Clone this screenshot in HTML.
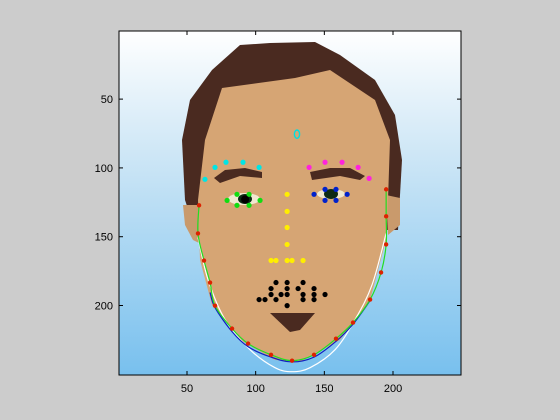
<!DOCTYPE html>
<html><head><meta charset="utf-8"><style>
html,body{margin:0;padding:0;background:#cccccc;}
svg{display:block;font-family:"Liberation Sans",sans-serif;}
</style></head><body>
<svg id="fig" width="560" height="420" viewBox="0 0 560 420">
<defs>
<linearGradient id="bg" x1="0" y1="0" x2="0" y2="1">
<stop offset="0" stop-color="#ffffff"/><stop offset="0.35" stop-color="#cfe7f6"/><stop offset="1" stop-color="#78c0ee"/>
</linearGradient>
<clipPath id="clip"><rect x="119" y="31" width="342" height="344"/></clipPath>
</defs>
<g clip-path="url(#clip)">
<rect x="119" y="31" width="342" height="344" fill="url(#bg)"/>
<polygon fill="#4a2a20" points="212,70 240,45 270,43 315,42 340,55 375,80 395,115 402,160 398,230 385,230 260,230 195,230 185,200 182,140 190,100"/>
<polygon fill="#c99a6c" points="183,205 198,205 203,245 193,240 185,225"/>
<polygon fill="#c99a6c" points="386,195 400,198 400,225 388,235"/>
<path fill="#d6a574" d="M222,88 L295,78 L330,70 L375,100 L390,140 L388,200 L386,240 L370,300 L340,340 L300,362 L275,360 L240,340 L212,305 L200,260 L198,200 L205,140 Z"/>
<polygon fill="#4a2a20" points="214,178 225,170 245,168 262,172 262,178 240,176 220,183"/>
<polygon fill="#4a2a20" points="310,172 330,168 350,168 365,176 360,180 340,176 312,180"/>
<ellipse cx="244" cy="199" rx="16" ry="6" fill="#f0e8d0"/>
<ellipse cx="331" cy="194" rx="14" ry="5" fill="#f0e8d0"/>
<ellipse cx="245" cy="199" rx="7" ry="5" fill="#0c2a14"/>
<ellipse cx="331" cy="194" rx="7" ry="5" fill="#0c2a14"/>
<polygon fill="#4a2a20" points="270,313 315,313 300,330 290,332"/>
</g>
<g id="marks" clip-path="url(#clip)"></g>
<rect x="119" y="31" width="342" height="344" fill="none" stroke="#000" stroke-width="1"/>
<g id="axes"></g>
</svg>
<script>
const xTicks=[50,100,150,200];
const yTicks=[50,100,150,200];
const browLX=[63.1,70.4,78.4,90.8,102.5];
const browLY=[108.3,99.6,95.9,95.9,99.6];
const browRX=[138.9,150.5,162.9,174.6,182.6];
const browRY=[99.6,95.9,95.9,99.6,107.6];
const eyeLX=[79.2,86.4,95.2,103.2,95.2,86.4];
const eyeLY=[123.6,119.2,119.2,123.6,127.2,127.2];
const eyeRX=[142.5,150.5,158.5,166.6,158.5,150.5];
const eyeRY=[119.2,115.6,115.6,119.2,123.6,123.6];
const noseX=[122.9,122.9,122.9,122.9,111.2,114.8,122.9,126.5,134.5];
const noseY=[119.2,131.6,143.3,155.6,167.3,167.3,167.3,167.3,167.3];
const mouthX=[114.8,122.9,134.5,111.2,122.9,130.9,142.5,111.2,118.5,122.9,134.5,142.5,150.5,102.5,106.8,114.8,134.5,142.5,122.9];
const mouthY=[183.3,183.3,183.3,187.7,187.7,187.7,187.7,192.0,192.0,192.0,192.0,192.0,192.0,195.7,195.7,195.7,195.7,195.7,200.1];
const jawX=[58.8,58.0,62.4,66.8,70.4,82.8,94.5,111.2,126.5,142.5,158.5,170.9,183.3,191.3,195.0,195.0,195.0];
const jawY=[127.2,147.6,167.3,183.3,200.1,216.8,227.7,235.8,240.1,235.8,224.1,212.4,195.7,176.0,155.6,135.2,115.6];
const blueX=[66.8,70.4,82.8,94.5,111.2,126.5,142.5,158.5,170.9,183.3];
const blueY=[190.5,201.5,219.0,230.0,237.5,241.0,237.5,226.0,213.5,196.5];
const whiteX=[58.0,65.3,77.7,95.9,114.1,126.5,139.6,157.8,172.4,184.8,195.0];
const whiteY=[150.5,181.1,210.2,232.1,245.2,248.1,245.2,232.1,210.2,184.8,147.6];
const markX=[130.1];
const markY=[75.5];

const X0=0.5,X1=249.5,Y0=0.5,Y1=250.5,PL=119,PR=461,PT=31,PB=375;
function sx(v){return PL+(v-X0)/(X1-X0)*(PR-PL);}
function sy(v){return PT+(v-Y0)/(Y1-Y0)*(PB-PT);}
const NS='http://www.w3.org/2000/svg';
const marks=document.getElementById('marks'), axes=document.getElementById('axes');
function mk(tag,parent){const e=document.createElementNS(NS,tag);parent.appendChild(e);return e;}
function spline(xs,ys){
  const p=xs.map((x,i)=>[sx(x),sy(ys[i])]);
  let d='M'+p[0][0]+','+p[0][1];
  for(let i=0;i<p.length-1;i++){
    const a=p[i-1]||p[i],b=p[i],c=p[i+1],e=p[i+2]||c;
    d+=' C'+(b[0]+(c[0]-a[0])/6)+','+(b[1]+(c[1]-a[1])/6)+' '+(c[0]-(e[0]-b[0])/6)+','+(c[1]-(e[1]-b[1])/6)+' '+c[0]+','+c[1];
  }
  return d;
}
function curve(xs,ys,color,name){
  const p=mk('path',marks);
  p.setAttribute('d',spline(xs,ys));p.setAttribute('fill','none');p.setAttribute('stroke',color);p.setAttribute('stroke-width','1.2');
  
  
}
function dots(xs,ys,color,name,r){
  xs.forEach((x,i)=>{
    const c=mk('circle',marks);
    c.setAttribute('cx',sx(x));c.setAttribute('cy',sy(ys[i]));c.setAttribute('r',r||2.6);c.setAttribute('fill',color);
    
    
  });
}
curve(whiteX,whiteY,'#ffffff','white-contour');
curve(blueX,blueY,'#1020c0','blue-contour');
curve(jawX,jawY,'#22dd22','green-contour');
dots(browLX,browLY,'#00e5e5','left-brow-point');
dots(browRX,browRY,'#ff22dd','right-brow-point');
dots(eyeLX,eyeLY,'#11dd11','left-eye-point');
dots([92.3],[122.9],'#000000','left-pupil-point',4);
dots(eyeRX,eyeRY,'#0022cc','right-eye-point');
dots(noseX,noseY,'#ffee00','nose-point');
dots(mouthX,mouthY,'#000000','mouth-point');
dots(jawX,jawY,'#dd2200','jaw-point',2.2);
markX.forEach((x,i)=>{
  const e=mk('ellipse',marks);
  e.setAttribute('cx',sx(x));e.setAttribute('cy',sy(markY[i]));e.setAttribute('rx',2.6);e.setAttribute('ry',4.2);
  e.setAttribute('fill','none');e.setAttribute('stroke','#00e0e0');e.setAttribute('stroke-width','1.4');
  
  
});
xTicks.forEach(t=>{
  const x=sx(t);
  [[PB,PB-4],[PT,PT+4]].forEach(([a,b])=>{const l=mk('line',axes);l.setAttribute('x1',x);l.setAttribute('x2',x);l.setAttribute('y1',a);l.setAttribute('y2',b);l.setAttribute('stroke','#000');
    
    });
  const tx=mk('text',axes);tx.setAttribute('x',x);tx.setAttribute('y',PB+17);tx.setAttribute('text-anchor','middle');tx.setAttribute('font-size','11');tx.textContent=t;
  
  
});
yTicks.forEach(t=>{
  const y=sy(t);
  [[PL,PL+4],[PR,PR-4]].forEach(([a,b])=>{const l=mk('line',axes);l.setAttribute('y1',y);l.setAttribute('y2',y);l.setAttribute('x1',a);l.setAttribute('x2',b);l.setAttribute('stroke','#000');
    
    });
  const tx=mk('text',axes);tx.setAttribute('x',PL-6);tx.setAttribute('y',y+4);tx.setAttribute('text-anchor','end');tx.setAttribute('font-size','11');tx.textContent=t;
  
  
});
</script>
</body></html>
